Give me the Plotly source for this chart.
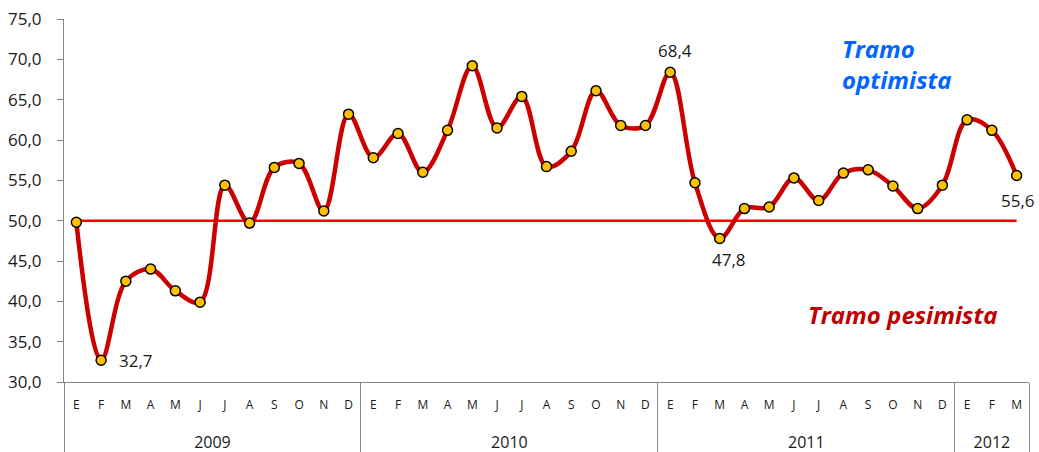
import plotly.graph_objects as go

ZW = "\u200b"  # keeps repeated month initials distinct within a year
month_names = ["E", "F", "M", "A", "M" + ZW, "J", "J" + ZW, "A" + ZW, "S", "O", "N", "D"]
years = ["2009"] * 12 + ["2010"] * 12 + ["2011"] * 12 + ["2012"] * 3
months = month_names * 3 + month_names[:3]

values = [
    49.8, 32.7, 42.5, 44.0, 41.3, 39.9, 54.4, 49.7, 56.6, 57.1, 51.2, 63.2,
    57.8, 60.8, 56.0, 61.2, 69.2, 61.5, 65.4, 56.7, 58.6, 66.1, 61.8, 61.8,
    68.4, 54.7, 47.8, 51.5, 51.7, 55.3, 52.5, 55.9, 56.3, 54.3, 51.5, 54.4,
    62.5, 61.2, 55.6,
]

# indices of the points that carry a value label
labelled_points = [1, 24, 26, 38]
label_offsets = {1: (16, 0, "left"), 24: (5, 22, "center"), 26: (9, -21, "center"), 38: (1, -25, "center")}

threshold = 50.0

FONT = "Open Sans"

# year row: larger text, set lower than the month row as in the reference
year_axis = ['<br><br><span style="font-size:16px">' + y + "</span>" for y in years]
x_cats = [year_axis, months]

fig = go.Figure()

fig.add_trace(go.Scatter(
    x=x_cats,
    y=[threshold] * len(values),
    mode="lines",
    line=dict(color="#FF0000", width=2.5),
    hoverinfo="skip",
    showlegend=False,
))

fig.add_trace(go.Scatter(
    x=x_cats,
    y=values,
    mode="lines+markers",
    line=dict(color="#CC0000", width=4.5, shape="spline", smoothing=1.0),
    marker=dict(color="#FFC000", size=10, line=dict(color="#000000", width=1.5)),
    cliponaxis=False,
    showlegend=False,
))

for i in labelled_points:
    dx, dy, anchor = label_offsets[i]
    fig.add_annotation(x=i, y=values[i], xref="x", yref="y",
                       text=f"{values[i]:.1f}".replace(".", ","),
                       showarrow=False, xanchor=anchor, yanchor="middle",
                       xshift=dx, yshift=dy,
                       font=dict(family=FONT, size=17, color="#1a1a1a"))

fig.add_annotation(text="<b><i>Tramo<br>optimista</i></b>", xref="paper", yref="paper",
                   x=0.804, y=0.875, xanchor="left", yanchor="middle", showarrow=False,
                   font=dict(family=FONT, size=24, color="#0066FF"), align="left")
fig.add_annotation(text="<b><i>Tramo pesimista</i></b>", xref="paper", yref="paper",
                   x=0.869, y=0.185, xanchor="center", yanchor="middle", showarrow=False,
                   font=dict(family=FONT, size=24, color="#C00000"), align="center")

fig.update_layout(
    width=1039, height=452,
    margin=dict(l=64, r=10, t=19, b=70, autoexpand=False),
    paper_bgcolor="white", plot_bgcolor="white",
    separators=",.",
    font=dict(family=FONT, size=13, color="#1a1a1a"),
)
fig.update_yaxes(range=[30, 75], dtick=5, tickformat=".1f", showgrid=False, zeroline=False,
                 showline=True, linecolor="#868686", linewidth=1, automargin=False,
                 ticks="outside", ticklen=6, tickcolor="#868686", ticklabelstandoff=12,
                 ticklabeloverflow="allow",
                 tickfont=dict(family=FONT, size=17, color="#1a1a1a"))
fig.update_xaxes(type="multicategory", range=[-0.5, len(values) - 0.5], autorange=False,
                 showgrid=False, showline=True, linecolor="#868686",
                 linewidth=1, showdividers=True, dividercolor="#868686", dividerwidth=1,
                 automargin=False, ticklabelstandoff=12, ticklabeloverflow="allow",
                 tickfont=dict(family=FONT, size=12, color="#1a1a1a"))

fig.write_html("out.html", config={"displayModeBar": False},
               post_script="document.body.style.margin='0px';")
